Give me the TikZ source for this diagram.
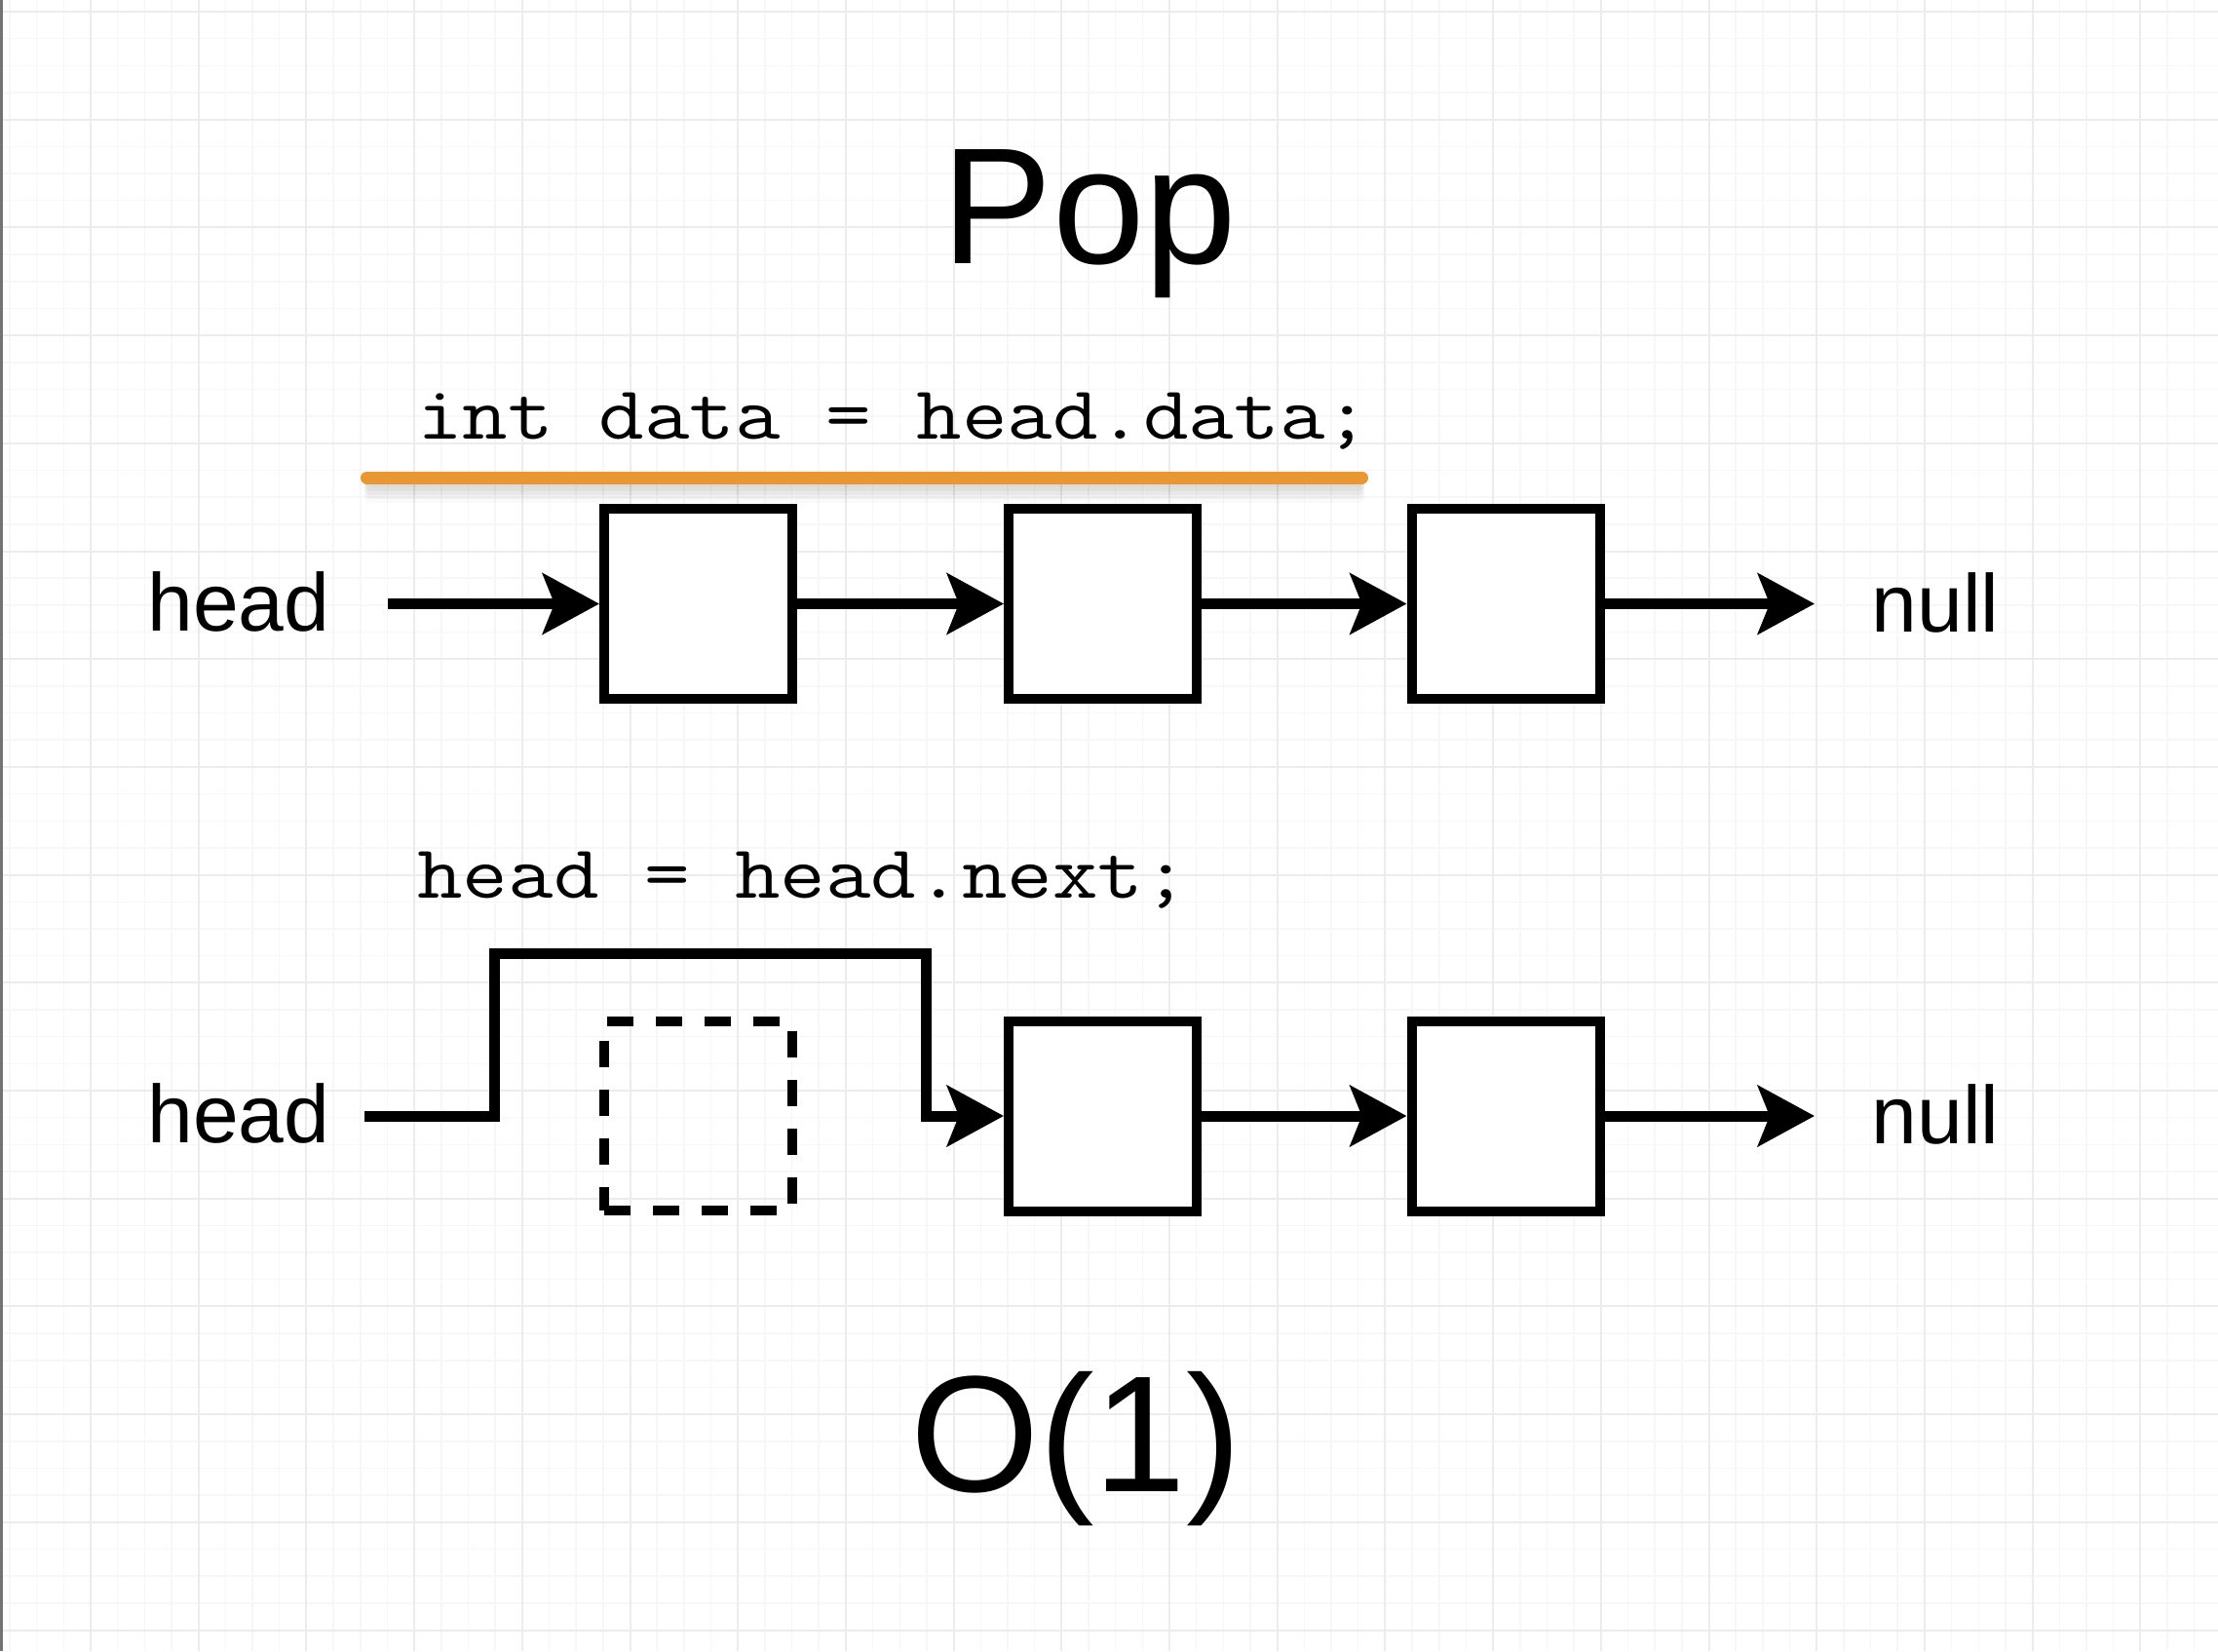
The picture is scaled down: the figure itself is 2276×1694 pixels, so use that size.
\documentclass[tikz,border=0pt]{standalone}
\usepackage{fontspec}
\setmainfont{Liberation Sans}
\usepackage{graphicx}
\usetikzlibrary{arrows.meta}
\definecolor{hlorange}{RGB}{233,151,48}
\definecolor{gridminor}{RGB}{247,247,247}
\definecolor{gridmajor}{RGB}{236,236,236}
\tikzset{
  nodebox/.style={draw=black, line width=5pt, fill=white, minimum width=96.5pt, minimum height=97.5pt, inner sep=0pt},
  ghostbox/.style={draw=black, line width=5pt, dash pattern=on 13.5pt off 11.5pt, minimum width=96.5pt, minimum height=97pt, inner sep=0pt},
  conn/.style={draw=black, line width=5.5pt, line join=miter, -{Stealth[length=29pt, width=31pt, inset=6pt]}},
  label/.style={font=\fontsize{42}{50}\selectfont, inner sep=0pt, anchor=base},
  bigtitle/.style={font=\fontsize{85}{100}\selectfont, inner sep=0pt, anchor=base},
  code/.style={font=\fontsize{38.8}{46}\fontseries{l}\selectfont\ttfamily, inner sep=0pt, anchor=base west},
}
\begin{document}
\begin{tikzpicture}[x=0.5pt,y=-0.5pt]
\useasboundingbox (0,0) rectangle (2276,1694);
\fill[white] (0,0) rectangle (2276,1694);
% grid
\foreach \i in {-3,...,79} \draw[gridminor, line width=0.75pt] ({93+27.675*\i},0) -- ({93+27.675*\i},1694);
\foreach \j in {0,...,60} \draw[gridminor, line width=0.75pt] (0,{12+27.675*\j}) -- (2276,{12+27.675*\j});
\foreach \i in {0,...,19} \draw[gridmajor, line width=1pt] ({93+110.7*\i},0) -- ({93+110.7*\i},1694);
\foreach \j in {0,...,15} \draw[gridmajor, line width=1pt] (0,{12+110.7*\j}) -- (2276,{12+110.7*\j});
\fill[black!55] (0,0) rectangle (3,1694);

% title
\node[bigtitle] (title) at (1118,270) {Pop};

% code line 1 with highlight
\node[code] (code1) at (428,450) {\scalebox{1.165}[1]{int data = head.data;}};
\foreach \o/\op in {4/0.05,8/0.05,12/0.04,16/0.03,20/0.02}
  \draw[black, opacity=\op, line width=6pt, line cap=round] (380,{490+\o}) -- (1394,{490+\o});
\draw[hlorange, line width=6.5pt, line cap=round] (376.5,490) -- (1397.5,490);

% row 1
\node[label] (head1) at (245,647) {head};
\node[nodebox] (a1) at (716.5,619.5) {};
\node[nodebox] (a2) at (1131.5,619.5) {};
\node[nodebox] (a3) at (1545,619.5) {};
\node[label] (null1) at (1986,648) {null};
\coordinate (h1s) at (398,619.5);
\coordinate (n1e) at (1862,619.5);
\draw[conn] (h1s) -- (a1.west);
\draw[conn] (a1.east) -- (a2.west);
\draw[conn] (a2.east) -- (a3.west);
\draw[conn] (a3.east) -- (n1e);

% code line 2
\node[code] (code2) at (428,921) {\scalebox{1.165}[1]{head = head.next;}};

% row 2
\node[label] (head2) at (245,1172) {head};
\node[ghostbox] (b1) at (716.5,1145) {};
\node[nodebox] (b2) at (1131.5,1145) {};
\node[nodebox] (b3) at (1545,1145) {};
\node[label] (null2) at (1986,1173) {null};
\coordinate (h2s) at (374,1145);
\coordinate (n2e) at (1862,1145);
\draw[conn] (h2s) -- (507,1145) -- (507,978) -- (950,978) -- (950,1145) -- (b2.west);
\draw[conn] (b2.east) -- (b3.west);
\draw[conn] (b3.east) -- (n2e);

% complexity
\node[bigtitle] (cplx) at (1104,1530) {O(1)};
\end{tikzpicture}
\end{document}
